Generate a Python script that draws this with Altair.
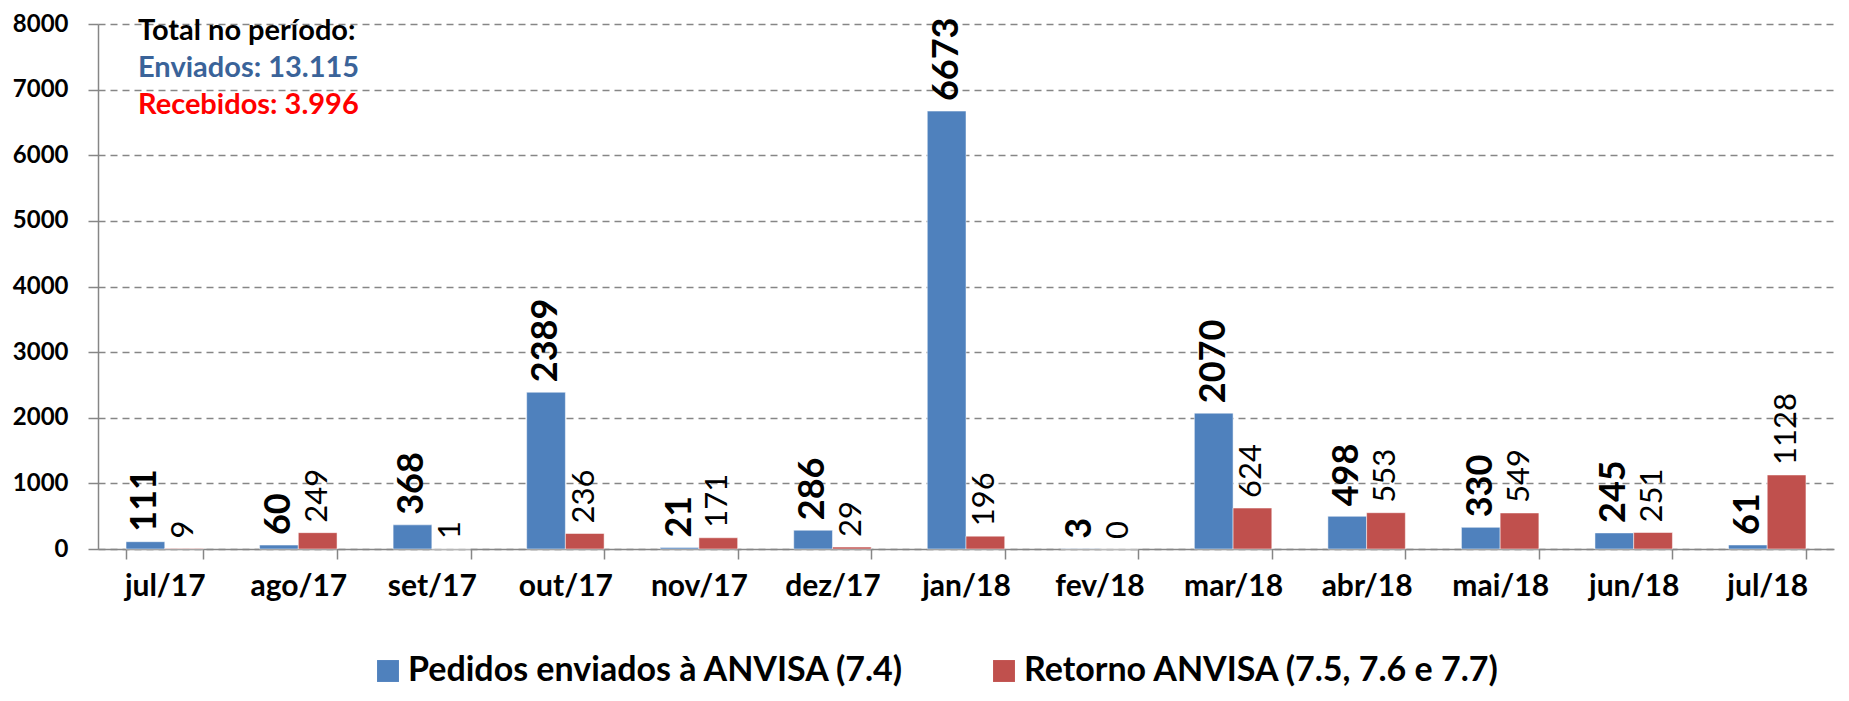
import altair as alt
import pandas as pd

months = ["jul/17", "ago/17", "set/17", "out/17", "nov/17", "dez/17", "jan/18",
          "fev/18", "mar/18", "abr/18", "mai/18", "jun/18", "jul/18"]
enviados = [111, 60, 368, 2389, 21, 286, 6673, 3, 2070, 498, 330, 245, 61]
retorno = [9, 249, 1, 236, 171, 29, 196, 0, 624, 553, 549, 251, 1128]
series_names = ["Pedidos enviados à ANVISA (7.4)", "Retorno ANVISA (7.5, 7.6 e 7.7)"]
series_colors = ["#4F81BD", "#C0504D"]
note_lines = ["Total no período:", "Enviados: 13.115", "Recebidos: 3.996"]
note_colors = ["#000000", "#3A6399", "#FF0000"]
note_y = [7890, 7330, 6760]

rows = []
for m, e, r in zip(months, enviados, retorno):
    rows.append({"mes": m, "serie": series_names[0], "valor": e})
    rows.append({"mes": m, "serie": series_names[1], "valor": r})
df = pd.DataFrame(rows)
notes = pd.DataFrame({"txt": note_lines, "cor": note_colors, "y": note_y})

FONT = "Lato"

x_enc = alt.X("mes:N", sort=months, title=None,
              scale=alt.Scale(paddingInner=0.42, paddingOuter=0.21),
              axis=alt.Axis(labelAngle=0, labelFont=FONT, labelFontSize=30,
                            labelFontWeight="bold", labelColor="#000000",
                            labelPadding=12, tickBand="extent", tickSize=10,
                            tickColor="#868686", domainColor="#868686",
                            tickWidth=1.5, domainWidth=1.5, grid=False))
y_enc = alt.Y("valor:Q", title=None,
              scale=alt.Scale(domain=[0, 8000], nice=False),
              axis=alt.Axis(values=list(range(0, 8001, 1000)), format="d",
                            labelFont=FONT, labelFontSize=24, labelFontWeight="bold",
                            labelColor="#000000", labelPadding=20, tickSize=10,
                            tickColor="#868686", domainColor="#868686",
                            tickWidth=1.5, domainWidth=1.5,
                            grid=True, gridColor="#868686", gridDash=[7, 5],
                            gridWidth=1.5))
xoff = alt.XOffset("serie:N", sort=series_names)

base = alt.Chart(df)

bars = base.mark_bar(stroke="white", strokeWidth=0.5).encode(
    x=x_enc, y=y_enc, xOffset=xoff,
    color=alt.Color("serie:N", sort=series_names,
                    scale=alt.Scale(domain=series_names, range=series_colors),
                    legend=alt.Legend(title=None, orient="none", direction="horizontal",
                                      legendX=273, legendY=630,
                                      labelFont=FONT, labelFontSize=34,
                                      labelFontWeight="bold", labelColor="#000000",
                                      symbolType="square", symbolSize=480,
                                      symbolStrokeWidth=0, labelOffset=3,
                                      columnPadding=82, labelLimit=800)),
)

lab_blue = base.transform_filter(alt.datum.serie == series_names[0]).mark_text(
    angle=270, align="left", baseline="middle", dx=10,
    font=FONT, fontSize=36, fontWeight="bold", color="#000000",
).encode(x=alt.X("mes:N", sort=months), y="valor:Q", xOffset=xoff, text="valor:Q")

lab_red = base.transform_filter(alt.datum.serie == series_names[1]).mark_text(
    angle=270, align="left", baseline="middle", dx=10,
    font=FONT, fontSize=31, fontWeight="normal", color="#000000",
).encode(x=alt.X("mes:N", sort=months), y="valor:Q", xOffset=xoff, text="valor:Q")

note = alt.Chart(notes).mark_text(
    align="left", baseline="middle", font=FONT, fontSize=29, fontWeight="bold",
).encode(
    x=alt.value(40),
    y=alt.Y("y:Q"),
    text="txt:N",
    color=alt.Color("cor:N", scale=None),
)

chart = alt.layer(bars, lab_blue, lab_red, note).properties(
    width=1736, height=525,
    autosize=alt.AutoSizeParams(type="none"),
    padding={"left": 90, "top": 16, "right": 7, "bottom": 144},
).configure_view(stroke=None).configure_axis(labelFont=FONT)

chart.save("out.html", embed_options={"renderer": "svg", "actions": False})
